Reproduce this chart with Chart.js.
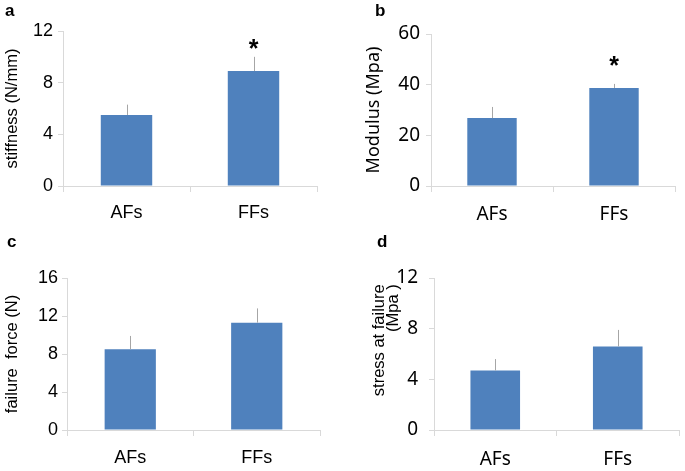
<!DOCTYPE html>
<html><head><meta charset="utf-8">
<script src="https://cdn.jsdelivr.net/npm/chart.js@4"></script>
<style>
html,body{margin:0;padding:0;background:#fff;}
#wrap{position:relative;width:685px;height:471px;overflow:hidden;background:#fff;}
canvas{position:absolute;}
.lbl{position:absolute;font:bold 17px "Liberation Sans",Arial,sans-serif;line-height:17px;color:#000;}
</style></head><body>
<div id="wrap">
<canvas id="ca" width="340" height="240" style="left:0;top:0"></canvas>
<canvas id="cb" width="345" height="240" style="left:340px;top:0"></canvas>
<canvas id="cc" width="340" height="231" style="left:0;top:240px"></canvas>
<canvas id="cd" width="345" height="231" style="left:340px;top:240px"></canvas>
<div class="lbl" style="left:5px;top:2px">a</div>
<div class="lbl" style="left:375px;top:2px">b</div>
<div class="lbl" style="left:7px;top:233px">c</div>
<div class="lbl" style="left:377px;top:233px">d</div>
</div>
<script>
// ---- data ----
const categories = ['AFs', 'FFs'];
const stiffness = [5.5, 8.9];
const stiffnessErr = [0.8, 1.1];
const stiffnessSig = [false, true];
const modulus = [26.8, 38.7];
const modulusErr = [4.4, 1.6];
const modulusSig = [false, true];
const failureForce = [8.5, 11.3];
const failureForceErr = [1.4, 1.5];
const failureForceSig = [false, false];
const stressAtFailure = [4.7, 6.6];
const stressAtFailureErr = [0.9, 1.3];
const stressAtFailureSig = [false, false];
const stiffnessTicks = [0, 12, 4];
const modulusTicks = [0, 60, 20];
const failureForceTicks = [0, 16, 4];
const stressTicks = [0, 12, 4];

const ARIAL = '"Liberation Sans", Arial, sans-serif';
const NOTO = '"Noto Sans", "Open Sans", sans-serif';

const errorPlugin = {
  id: 'errorBars',
  afterDatasetsDraw(chart, args, opts) {
    const ctx = chart.ctx;
    const y = chart.scales.y;
    const meta = chart.getDatasetMeta(0);
    const vals = chart.data.datasets[0].data;
    ctx.save();
    meta.data.forEach((bar, i) => {
      const top = y.getPixelForValue(vals[i] + opts.errors[i]);
      const x = Math.round(bar.x) + 0.5;
      ctx.beginPath();
      ctx.strokeStyle = '#a6a6a6';
      ctx.lineWidth = 1;
      ctx.moveTo(x, bar.y);
      ctx.lineTo(x, top);
      ctx.stroke();
      if (opts.sig[i]) {
        ctx.fillStyle = '#000';
        ctx.font = opts.starFont;
        ctx.textAlign = 'center';
        ctx.textBaseline = 'alphabetic';
        ctx.fillText('*', bar.x, top - opts.starGap);
      }
    });
    ctx.restore();
  }
};

function makePanel(id, c) {
  const cv = document.getElementById(id);
  const W = cv.width, H = cv.height;
  return new Chart(cv.getContext('2d'), {
    type: 'bar',
    data: {
      labels: categories,
      datasets: [{
        data: c.values,
        backgroundColor: '#4f81bd',
        borderWidth: 0,
        barPercentage: 0.405,
        categoryPercentage: 1
      }]
    },
    options: {
      responsive: false,
      animation: false,
      devicePixelRatio: 1,
      events: [],
      layout: { padding: { left: 0, top: c.area[1], right: W - c.area[2], bottom: 0 } },
      plugins: {
        legend: { display: false },
        tooltip: { enabled: false },
        errorBars: { errors: c.errors, sig: c.sig, starGap: c.starGap || 0, starFont: c.starFont || ('bold 25px ' + ARIAL) }
      },
      scales: {
        x: {
          grid: { drawOnChartArea: false, drawTicks: true, tickLength: 6, color: '#d9d9d9', offset: true },
          border: { color: '#d9d9d9', width: 1 },
          ticks: { color: '#000', font: { family: c.catFont, size: c.catSize }, padding: c.xPad },
          afterFit: s => { s.height = H - c.area[3]; }
        },
        y: {
          min: c.ticks[0], max: c.ticks[1],
          ticks: { stepSize: c.ticks[2], color: '#000', font: { family: c.tickFont, size: c.tickSize }, padding: c.yPad },
          grid: { drawOnChartArea: false, drawTicks: true, tickLength: 5, color: '#d9d9d9' },
          border: { color: '#d9d9d9', width: 1 },
          title: { display: true, text: c.title, color: '#000', font: { family: c.titleFont, size: c.titleSize, lineHeight: c.titleLH || 1.2 }, padding: { top: c.titlePad, bottom: 0 } },
          afterFit: s => { s.width = c.area[0]; }
        }
      }
    },
    plugins: [errorPlugin]
  });
}

makePanel('ca', {
  values: stiffness, errors: stiffnessErr, sig: stiffnessSig, ticks: stiffnessTicks,
  area: [63, 31, 317, 186],
  title: 'stiffness (N/mm)', titleFont: ARIAL, titleSize: 16.5, titlePad: 3,
  tickFont: ARIAL, tickSize: 18, yPad: 5,
  catFont: ARIAL, catSize: 18, xPad: 10,
  starGap: 0
});
makePanel('cb', {
  values: modulus, errors: modulusErr, sig: modulusSig, ticks: modulusTicks,
  area: [91, 34, 335, 186],
  title: 'Modulus (Mpa)', titleFont: NOTO, titleSize: 18, titlePad: 23,
  tickFont: NOTO, tickSize: 19, yPad: 6,
  catFont: NOTO, catSize: 19, xPad: 11,
  starGap: 10
});
makePanel('cc', {
  values: failureForce, errors: failureForceErr, sig: failureForceSig, ticks: failureForceTicks,
  area: [67, 38, 320, 190],
  title: 'failure  force (N)', titleFont: ARIAL, titleSize: 16.5, titlePad: 3,
  tickFont: ARIAL, tickSize: 18, yPad: 4,
  catFont: ARIAL, catSize: 18, xPad: 11
});
makePanel('cd', {
  values: stressAtFailure, errors: stressAtFailureErr, sig: stressAtFailureSig, ticks: stressTicks,
  area: [94, 38, 339, 190],
  title: ['      stress at failure', '                    (Mpa )'], titleFont: ARIAL, titleSize: 16.5, titleLH: 0.82, titlePad: 33,
  tickFont: NOTO, tickSize: 19, yPad: 11,
  catFont: NOTO, catSize: 19, xPad: 12
});
</script>
</body></html>
